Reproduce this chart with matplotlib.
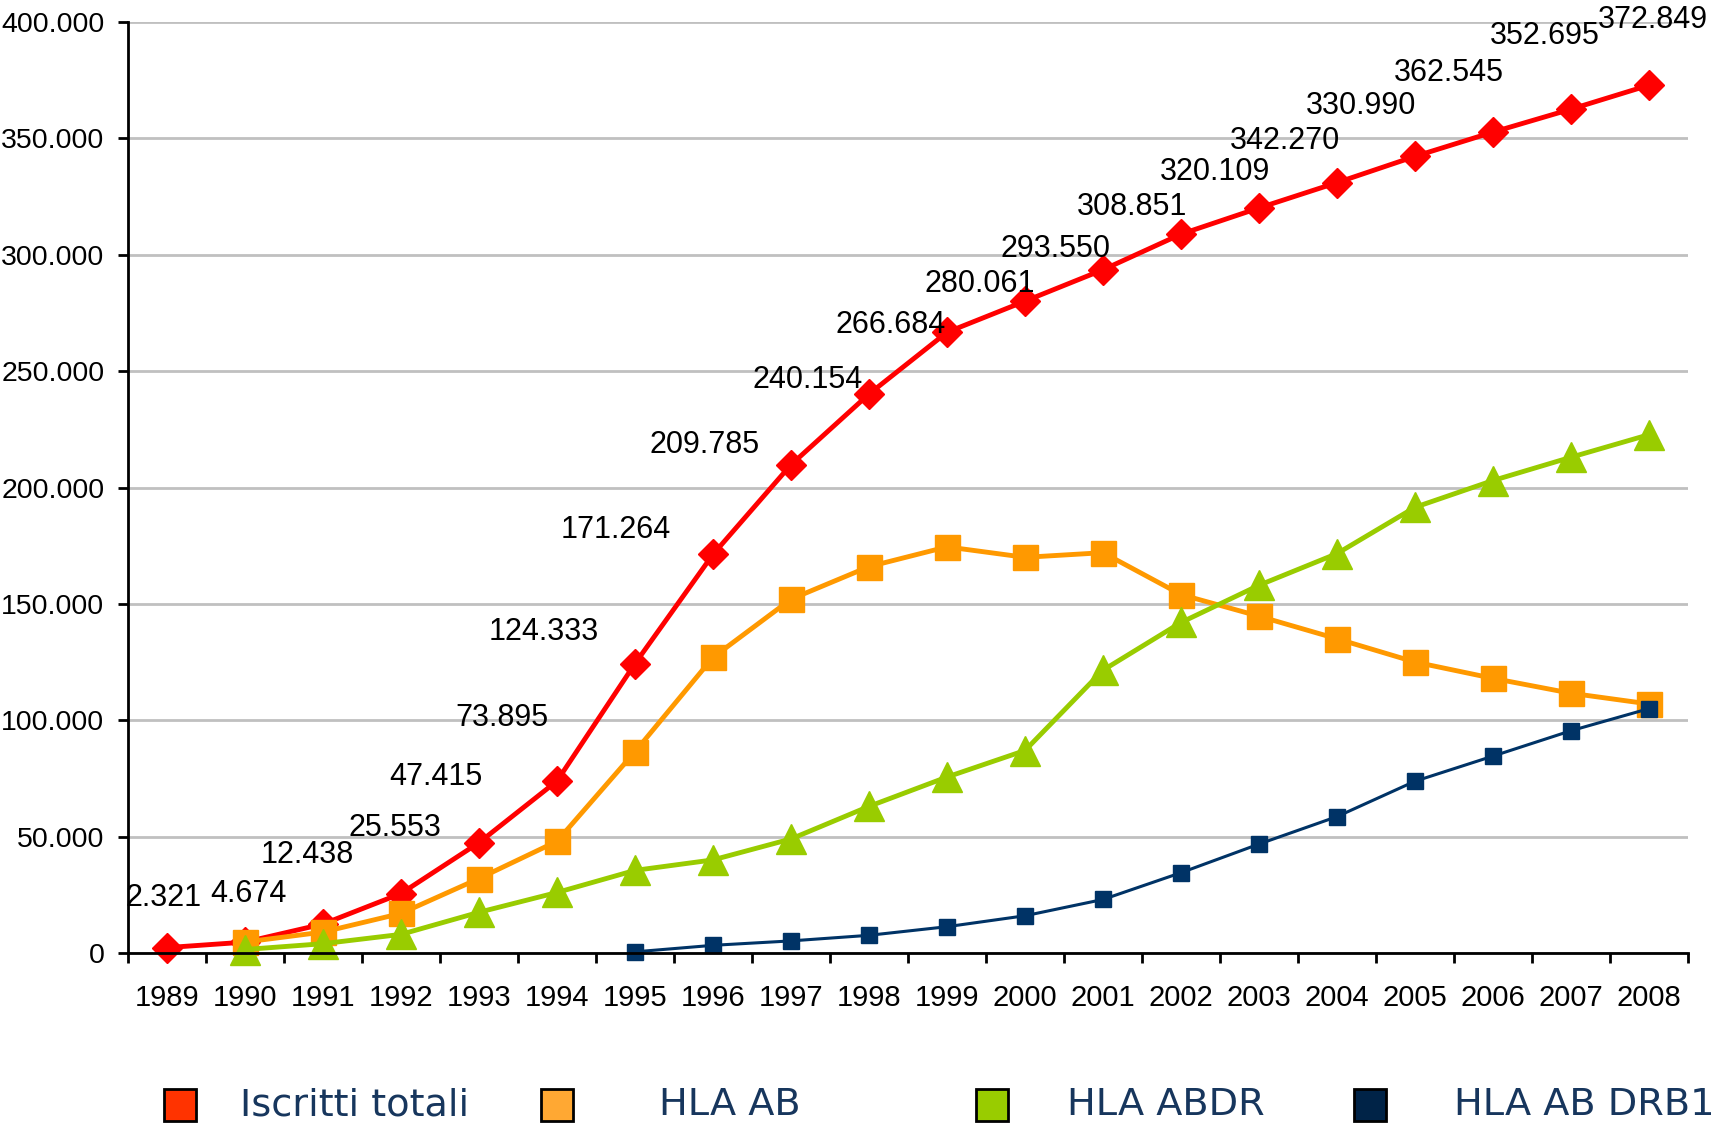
import numpy as np
import matplotlib.pyplot as plt
from matplotlib.patches import Rectangle
from matplotlib.ticker import FixedLocator, FuncFormatter

anni = ['1989', '1990', '1991', '1992', '1993', '1994', '1995', '1996', '1997', '1998',
        '1999', '2000', '2001', '2002', '2003', '2004', '2005', '2006', '2007', '2008']

iscritti = [2321, 4674, 12438, 25553, 47415, 73895, 124333, 171264, 209785, 240154,
            266684, 280061, 293550, 308851, 320109, 330990, 342270, 352695, 362545, 372849]
# etichette come appaiono nel grafico originale
etichette = ['2.321', '4.674', '12.438', '25.553', '47.415', '73.895', '124.333', '171.264',
             '209.785', '240.154', '266.684', '280.061', '293.550', '308.851', '320.109',
             '342.270', '330.990', '362.545', '352.695', '372.849']

hla_ab = [None, 4700, 9000, 17000, 32000, 48000, 86500, 127000, 152000, 166000,
          174500, 170000, 172000, 154000, 144700, 135000, 125000, 118000, 111600, 107000]
hla_abdr = [None, 1500, 4000, 8000, 17500, 26000, 35500, 40000, 49000, 63000,
            75600, 87000, 121500, 142000, 158000, 171600, 191500, 203000, 213000, 222700]
hla_ab_drb1 = [None, None, None, None, None, None, 500, 3300, 5200, 7600,
               11300, 16000, 23000, 34500, 46800, 58600, 73800, 84600, 95500, 105000]

serie = ['Iscritti totali', 'HLA AB', 'HLA ABDR', 'HLA AB DRB1']

# spostamento delle etichette rispetto al punto (pixel)
off_x = [-3, 3, -16, -6, -43, -55, -91, -97, -86, -61, -56, -45, -48, -49, -44, -52, -54, -44, -26, 4]
off_y = [50, 48, 69, 66, 66, 63, 32, 24, 20, 14, 7, 17, 21, 27, 36, 42, 50, 59, 73, 65]

def arr(v):
    return np.array([np.nan if a is None else a for a in v], dtype=float)

x = np.arange(len(anni))

fig = plt.figure(figsize=(17.24, 11.24), dpi=100)
ax = fig.add_axes([128/1724, 171/1124, 1560/1724, 931/1124])

ax.plot(x, arr(iscritti), color='#FF0000', lw=3.5, marker='D', ms=15, clip_on=False)
ax.plot(x, arr(hla_ab), color='#FF9900', lw=3.5, marker='s', ms=18, clip_on=False)
ax.plot(x, arr(hla_abdr), color='#99CC00', lw=3.5, marker='^', ms=21, clip_on=False)
ax.plot(x, arr(hla_ab_drb1), color='#003366', lw=2.2, marker='s', ms=12, clip_on=False)

for i in range(len(anni)):
    ax.annotate(etichette[i], (x[i], iscritti[i]), xytext=(off_x[i], off_y[i]),
                textcoords='offset pixels', ha='center', va='center',
                fontsize=22, family='Liberation Sans', color='black')

ax.set_xlim(-0.5, len(anni) - 0.5)
ax.set_ylim(0, 400000)
ax.xaxis.set_major_locator(FixedLocator(np.arange(len(anni) + 1) - 0.5))
ax.xaxis.set_major_formatter(FuncFormatter(lambda v, p: ''))
ax.set_xticks(x, minor=True)
ax.set_xticklabels(anni, minor=True)
ax.set_yticks(np.arange(0, 400001, 50000))
ax.yaxis.set_major_formatter(FuncFormatter(lambda v, p: f'{int(v):,}'.replace(',', '.')))

ax.tick_params(axis='x', which='major', length=7, width=2, direction='out')
ax.tick_params(axis='x', which='minor', length=0, pad=22, labelsize=21)
ax.tick_params(axis='y', length=7, width=2, direction='out', pad=10, labelsize=20.5)
for lab in ax.get_xticklabels(minor=True) + ax.get_yticklabels():
    lab.set_family('Liberation Sans')

ax.grid(axis='y', color='#C0C0C0', lw=2)
ax.set_axisbelow(True)
ax.spines['top'].set_visible(False)
ax.spines['right'].set_visible(False)
ax.spines['left'].set_linewidth(2)
ax.spines['bottom'].set_linewidth(2)
ax.spines['bottom'].set_zorder(2.5)

# legenda manuale
col_leg = ['#FF3300', '#FFA833', '#99CC00', '#002347']
quad_x = [164, 541, 976, 1354]
testo_x = [240, 659, 1067, 1454]
for i in range(len(serie)):
    fig.add_artist(Rectangle((quad_x[i]/1724, 3/1124), 32/1724, 32/1124,
                             facecolor=col_leg[i], edgecolor='black', lw=2,
                             transform=fig.transFigure))
    fig.text(testo_x[i]/1724, 19/1124, serie[i], fontsize=27.5, color='#17365D',
             family='DejaVu Sans', va='center', ha='left')

plt.savefig('out.png', dpi=100)
